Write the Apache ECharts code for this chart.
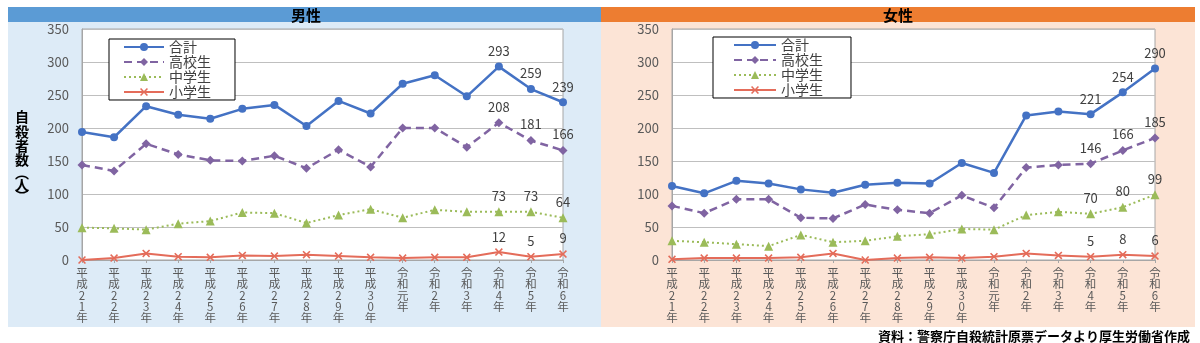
<!DOCTYPE html>
<html>
<head>
<meta charset="utf-8">
<script src="https://cdn.jsdelivr.net/npm/echarts@6/dist/echarts.min.js"></script>
<style>
html,body{margin:0;padding:0;background:#fff;}
#c{width:1200px;height:343px;}
</style>
</head>
<body>
<div id="c"></div>
<script>
const categories = ['平成21年','平成22年','平成23年','平成24年','平成25年','平成26年','平成27年','平成28年','平成29年','平成30年','令和元年','令和2年','令和3年','令和4年','令和5年','令和6年'];
const yTicks = [0, 50, 100, 150, 200, 250, 300, 350];
const seriesNames = ['合計', '高校生', '中学生', '小学生'];

const maleTotal  = [194,186,233,220,214,229,235,203,241,222,267,280,248,293,259,239];
const maleHigh   = [144,135,176,160,151,150,158,139,167,141,200,200,171,208,181,166];
const maleJunior = [49,48,46,55,59,72,71,56,68,77,64,76,73,73,73,64];
const maleElem   = [0,3,10,5,4,7,6,8,6,4,3,4,4,12,5,9];

const femaleTotal  = [112,101,120,116,107,102,114,117,116,147,132,219,225,221,254,290];
const femaleHigh   = [82,71,92,92,64,63,84,76,71,98,79,140,144,146,166,185];
const femaleJunior = [29,27,24,21,38,27,29,36,39,47,46,68,73,70,80,99];
const femaleElem   = [1,3,3,3,4,10,0,3,4,3,5,10,7,5,8,6];

const labelFrom = 13;

const chart = echarts.init(document.getElementById('c'), null, {renderer: 'canvas'});

const FONT = '"Noto Sans CJK JP", "Noto Sans", sans-serif';
const CROSS = 'path://M0,1.4L1.4,0L5,3.6L8.6,0L10,1.4L6.4,5L10,8.6L8.6,10L5,6.4L1.4,10L0,8.6L3.6,5Z';

const styles = [
  {color: '#4472c4', line: {width: 2.5, type: 'solid'}, symbol: 'circle', size: 8},
  {color: '#8064a2', line: {width: 2.5, type: [8, 5]}, symbol: 'diamond', size: 9},
  {color: '#9bbb59', line: {width: 2, type: [2, 3]}, symbol: 'triangle', size: 9},
  {color: '#e46c5a', line: {width: 2, type: 'solid'}, symbol: CROSS, size: 8}
];

function mkData(arr) {
  return arr.map((v, i) => i >= labelFrom ? {value: v, label: {show: true}} : v);
}

function mkSeries(arrs, gi) {
  return arrs.map((arr, k) => ({
    name: seriesNames[k],
    type: 'line',
    xAxisIndex: gi,
    yAxisIndex: gi,
    data: mkData(arr),
    symbol: styles[k].symbol,
    symbolSize: styles[k].size,
    lineStyle: {color: styles[k].color, width: styles[k].line.width, type: styles[k].line.type},
    itemStyle: {color: styles[k].color},
    label: {show: false, position: 'top', distance: 5, color: '#404040', fontSize: 13, fontFamily: FONT},
    z: 10 - k,
    animation: false
  }));
}

function mkX(gi) {
  return {
    type: 'category', gridIndex: gi, data: categories, boundaryGap: false,
    axisLine: {lineStyle: {color: '#a6a6a6'}},
    axisTick: {show: true, length: 3, lineStyle: {color: '#a6a6a6'}},
    axisLabel: {
      interval: 0, margin: 7, color: '#595959', fontSize: 11.5, lineHeight: 11.3, fontFamily: FONT,
      formatter: v => v.split('').join('\n')
    }
  };
}

function mkY(gi) {
  return {
    type: 'value', gridIndex: gi, min: yTicks[0], max: yTicks[yTicks.length - 1], interval: 50,
    axisLine: {show: true, lineStyle: {color: '#a6a6a6'}},
    axisTick: {show: false},
    splitLine: {lineStyle: {color: '#bfbfbf', width: 1}},
    axisLabel: {margin: 13, color: '#595959', fontSize: 13, fontFamily: FONT}
  };
}

function mkLegend(left, top, padLeft, padRight, itemWidth) {
  return {
    orient: 'vertical', left: left, top: top,
    data: seriesNames,
    backgroundColor: '#ffffff', borderColor: '#000000', borderWidth: 1, borderRadius: 0,
    padding: [1, padRight, 1, padLeft],
    itemWidth: itemWidth, itemHeight: 10, itemGap: 1,
    textStyle: {color: '#404040', fontSize: 14, lineHeight: 12, fontFamily: FONT},
    selectedMode: false
  };
}

chart.setOption({
  animation: false,
  textStyle: {fontFamily: FONT},
  graphic: [
    {type: 'rect', shape: {x: 8, y: 22, width: 593, height: 305}, style: {fill: '#ddebf7'}, z: -10},
    {type: 'rect', shape: {x: 601, y: 22, width: 594, height: 305}, style: {fill: '#fce4d6'}, z: -10},
    {type: 'rect', shape: {x: 8, y: 7, width: 593, height: 15}, style: {fill: '#5b9bd5'}, z: -10},
    {type: 'rect', shape: {x: 601, y: 7, width: 594, height: 15}, style: {fill: '#ed7d31'}, z: -10},
    {type: 'text', x: 306, y: 15, style: {text: '男性', fill: '#000', fontSize: 15, fontWeight: 'bold', fontFamily: FONT, align: 'center', verticalAlign: 'middle'}},
    {type: 'text', x: 898, y: 15, style: {text: '女性', fill: '#000', fontSize: 15, fontWeight: 'bold', fontFamily: FONT, align: 'center', verticalAlign: 'middle'}},
    {type: 'text', x: 22, y: 110, style: {
      text: '{c|自}\n{c|殺}\n{c|者}\n{c|数}\n{p|︵}\n{m|人}\n{p|︶}',
      align: 'center', verticalAlign: 'top',
      rich: {
        c: {fill: '#000', fontSize: 14, fontWeight: 'bold', fontFamily: FONT, lineHeight: 14.3, align: 'center'},
        m: {fill: '#000', fontSize: 14, fontWeight: 'bold', fontFamily: FONT, lineHeight: 12, align: 'center'},
        p: {fill: '#000', fontSize: 14, fontWeight: 'bold', fontFamily: FONT, lineHeight: 11, align: 'center'}
      }
    }},
    {type: 'text', x: 1190, y: 336, style: {text: '資料：警察庁自殺統計原票データより厚生労働省作成', fill: '#000', fontSize: 13, fontWeight: 'bold', fontFamily: FONT, align: 'right', verticalAlign: 'middle'}}
  ],
  legend: [mkLegend(109, 39, 14, 24, 40), mkLegend(713, 37, 20, 28, 42)],
  grid: [
    {left: 82, width: 481, top: 29, bottom: 83, show: true, backgroundColor: '#ffffff', borderColor: '#a6a6a6', borderWidth: 1, containLabel: false},
    {left: 672, width: 483, top: 29, bottom: 83, show: true, backgroundColor: '#ffffff', borderColor: '#a6a6a6', borderWidth: 1, containLabel: false}
  ],
  xAxis: [mkX(0), mkX(1)],
  yAxis: [mkY(0), mkY(1)],
  series: [
    ...mkSeries([maleTotal, maleHigh, maleJunior, maleElem], 0),
    ...mkSeries([femaleTotal, femaleHigh, femaleJunior, femaleElem], 1)
  ]
});
</script>
</body>
</html>
